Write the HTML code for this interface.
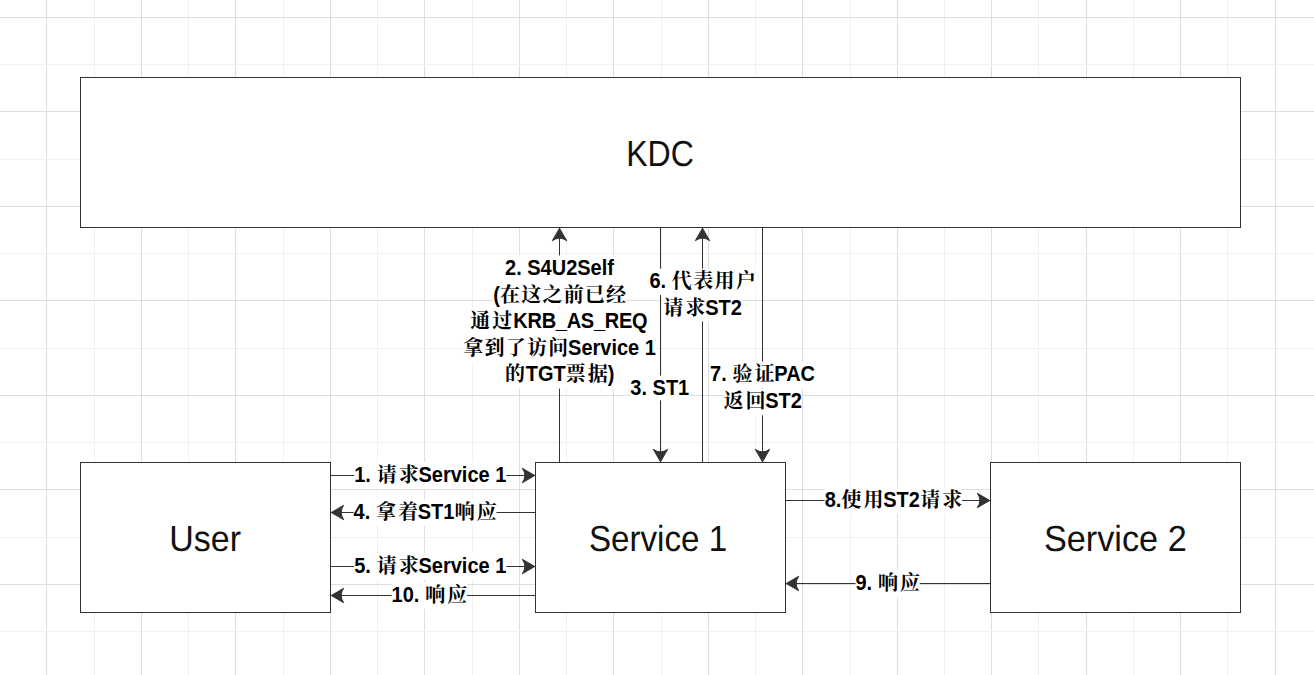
<!DOCTYPE html>
<html lang="zh-CN">
<head>
<meta charset="utf-8">
<title>Kerberos S4U2Self / S4U2Proxy flow</title>
<style>
html,body{margin:0;padding:0;background:#fff;}
body{width:1314px;height:675px;overflow:hidden;font-family:"Liberation Sans",sans-serif;}
svg{display:block;position:absolute;left:0;top:0;}
.grid{shape-rendering:crispEdges;}
.box rect{fill:#fff;stroke:#333;stroke-width:1;shape-rendering:crispEdges;}
.edge rect{fill:#333;shape-rendering:crispEdges;}
.arrow path{fill:#333;stroke:#333;stroke-width:1;stroke-linejoin:miter;}
.lbg rect{fill:#fff;}
.lbl text{font-family:"Liberation Sans",sans-serif;font-weight:bold;font-size:20px;fill:#000;font-kerning:normal;white-space:pre;}
.lbl text.cjk{font-family:"Liberation Serif","Noto Serif CJK SC",serif;font-weight:bold;font-size:20px;fill:#000;}
.ttl text{text-rendering:geometricPrecision;font-family:"Liberation Sans",sans-serif;font-weight:normal;font-size:36.3px;fill:#111;stroke:none;font-kerning:none;}
</style>
</head>
<body>
<svg width="1314" height="675" viewBox="0 0 1314 675">
<g class="grid">
<rect x="46" y="0" width="1" height="675" fill="#dedede"/>
<rect x="94" y="0" width="1" height="675" fill="#f0f0f0"/>
<rect x="141" y="0" width="1" height="675" fill="#dedede"/>
<rect x="188" y="0" width="1" height="675" fill="#f0f0f0"/>
<rect x="235" y="0" width="1" height="675" fill="#dedede"/>
<rect x="283" y="0" width="1" height="675" fill="#f0f0f0"/>
<rect x="330" y="0" width="1" height="675" fill="#dedede"/>
<rect x="377" y="0" width="1" height="675" fill="#f0f0f0"/>
<rect x="424" y="0" width="1" height="675" fill="#dedede"/>
<rect x="472" y="0" width="1" height="675" fill="#f0f0f0"/>
<rect x="519" y="0" width="1" height="675" fill="#dedede"/>
<rect x="566" y="0" width="1" height="675" fill="#f0f0f0"/>
<rect x="613" y="0" width="1" height="675" fill="#dedede"/>
<rect x="661" y="0" width="1" height="675" fill="#f0f0f0"/>
<rect x="708" y="0" width="1" height="675" fill="#dedede"/>
<rect x="755" y="0" width="1" height="675" fill="#f0f0f0"/>
<rect x="802" y="0" width="1" height="675" fill="#dedede"/>
<rect x="850" y="0" width="1" height="675" fill="#f0f0f0"/>
<rect x="897" y="0" width="1" height="675" fill="#dedede"/>
<rect x="944" y="0" width="1" height="675" fill="#f0f0f0"/>
<rect x="991" y="0" width="1" height="675" fill="#dedede"/>
<rect x="1038" y="0" width="1" height="675" fill="#f0f0f0"/>
<rect x="1086" y="0" width="1" height="675" fill="#dedede"/>
<rect x="1133" y="0" width="1" height="675" fill="#f0f0f0"/>
<rect x="1180" y="0" width="1" height="675" fill="#dedede"/>
<rect x="1227" y="0" width="1" height="675" fill="#f0f0f0"/>
<rect x="1275" y="0" width="1" height="675" fill="#dedede"/>
<rect x="0" y="17" width="1314" height="1" fill="#dedede"/>
<rect x="0" y="64" width="1314" height="1" fill="#f0f0f0"/>
<rect x="0" y="111" width="1314" height="1" fill="#dedede"/>
<rect x="0" y="159" width="1314" height="1" fill="#f0f0f0"/>
<rect x="0" y="206" width="1314" height="1" fill="#dedede"/>
<rect x="0" y="253" width="1314" height="1" fill="#f0f0f0"/>
<rect x="0" y="300" width="1314" height="1" fill="#dedede"/>
<rect x="0" y="348" width="1314" height="1" fill="#f0f0f0"/>
<rect x="0" y="395" width="1314" height="1" fill="#dedede"/>
<rect x="0" y="442" width="1314" height="1" fill="#f0f0f0"/>
<rect x="0" y="489" width="1314" height="1" fill="#dedede"/>
<rect x="0" y="537" width="1314" height="1" fill="#f0f0f0"/>
<rect x="0" y="584" width="1314" height="1" fill="#dedede"/>
<rect x="0" y="631" width="1314" height="1" fill="#f0f0f0"/>
</g>
<g class="box">
<rect x="80.5" y="77.5" width="1160" height="150"/>
<rect x="80.5" y="462.5" width="250" height="150"/>
<rect x="535.5" y="462.5" width="250" height="150"/>
<rect x="990.5" y="462.5" width="250" height="150"/>
</g>
<g class="edge">
<rect x="559" y="228" width="1" height="234"/>
<rect x="660" y="228" width="1" height="234"/>
<rect x="702" y="228" width="1" height="234"/>
<rect x="762" y="228" width="1" height="234"/>
<rect x="331" y="475" width="204" height="1"/>
<rect x="331" y="512" width="204" height="1"/>
<rect x="331" y="566" width="204" height="1"/>
<rect x="331" y="595" width="204" height="1"/>
<rect x="786" y="500" width="204" height="1"/>
<rect x="786" y="583" width="204" height="1"/>
</g>
<g class="arrow">
<path d="M559.5 228.2L552.3 240.7Q559.5 235.5 566.7 240.7Z"/>
<path d="M660.5 461.8L653.3 449.3Q660.5 454.5 667.7 449.3Z"/>
<path d="M702.5 228.2L695.3 240.7Q702.5 235.5 709.7 240.7Z"/>
<path d="M762.5 461.8L755.3 449.3Q762.5 454.5 769.7 449.3Z"/>
<path d="M534.8 475.5L522.3 468.3Q527.5 475.5 522.3 482.7Z"/>
<path d="M331.2 512.5L343.7 505.3Q338.5 512.5 343.7 519.7Z"/>
<path d="M534.8 566.5L522.3 559.3Q527.5 566.5 522.3 573.7Z"/>
<path d="M331.2 595.5L343.7 588.3Q338.5 595.5 343.7 602.7Z"/>
<path d="M989.8 500.5L977.3 493.3Q982.5 500.5 977.3 507.7Z"/>
<path d="M786.2 583.5L798.7 576.3Q793.5 583.5 798.7 590.7Z"/>
</g>
<g class="ttl">
<text x="626.17" y="166.00" textLength="67.65" lengthAdjust="spacingAndGlyphs">KDC</text>
<text x="169.18" y="551.00" textLength="71.79" lengthAdjust="spacingAndGlyphs">User</text>
<text x="589.00" y="551.00" textLength="138.12" lengthAdjust="spacingAndGlyphs">Service 1</text>
<text x="1043.94" y="551.00" textLength="142.78" lengthAdjust="spacingAndGlyphs">Service 2</text>
</g>
<g class="lbl" role="img" aria-label="2. S4U2Self (在这之前已经 通过KRB_AS_REQ 拿到了访问Service 1 的TGT票据)"><title>2. S4U2Self (在这之前已经 通过KRB_AS_REQ 拿到了访问Service 1 的TGT票据)</title>
<g class="lbg"><rect x="505.03" y="255.40" width="108.94" height="26.64"/><rect x="493.17" y="282.04" width="132.66" height="26.64"/><rect x="470.16" y="308.68" width="178.69" height="26.64"/><rect x="463.08" y="335.32" width="192.84" height="26.64"/><rect x="504.68" y="361.96" width="109.64" height="26.64"/></g>
<text transform="translate(505.03 275.00) scale(1 1.08)" textLength="108.94">2. S4U2Self</text>
<text transform="translate(493.17 301.50) scale(1 1.08)" textLength="6.66">(</text>
<text class="cjk" x="500.03" y="301.50" textLength="126">在这之前已经</text>
<text class="cjk" x="470.36" y="328.00" textLength="42">通过</text>
<text transform="translate(513.36 328.00) scale(1 1.08)" textLength="134.20">KRB_AS_REQ</text>
<text class="cjk" x="463.28" y="354.50" textLength="105">拿到了访问</text>
<text transform="translate(568.08 354.50) scale(1 1.08)" textLength="87.84">Service 1</text>
<text class="cjk" x="504.88" y="381.00" textLength="21">的</text>
<text transform="translate(525.68 381.00) scale(1 1.08)" textLength="39.98">TGT</text>
<text class="cjk" x="565.86" y="381.00" textLength="42">票据</text>
<text transform="translate(607.66 381.00) scale(1 1.08)" textLength="6.66">)</text>
</g>
<g class="lbl" role="img" aria-label="6. 代表用户 请求ST2"><title>6. 代表用户 请求ST2</title>
<g class="lbg"><rect x="649.38" y="268.60" width="106.23" height="26.45"/><rect x="663.16" y="295.05" width="78.67" height="26.45"/></g>
<text transform="translate(649.38 288.00) scale(1 1.08)" textLength="16.67">6.</text>
<text class="cjk" x="671.82" y="288.00" textLength="84">代表用户</text>
<text class="cjk" x="663.36" y="315.00" textLength="42">请求</text>
<text transform="translate(705.16 315.00) scale(1 1.08)" textLength="36.67">ST2</text>
</g>
<g class="lbl" role="img" aria-label="3. ST1"><title>3. ST1</title>
<g class="lbg"><rect x="630.35" y="375.60" width="58.91" height="24.70"/></g>
<text transform="translate(630.35 395.00) scale(1 1.08)" textLength="58.91">3. ST1</text>
</g>
<g class="lbl" role="img" aria-label="7. 验证PAC 返回ST2"><title>7. 验证PAC 返回ST2</title>
<g class="lbg"><rect x="710.12" y="361.50" width="104.97" height="26.85"/><rect x="723.26" y="388.35" width="78.67" height="26.85"/></g>
<text transform="translate(710.12 381.00) scale(1 1.08)" textLength="16.67">7.</text>
<text class="cjk" x="732.55" y="381.00" textLength="42">验证</text>
<text transform="translate(774.35 381.00) scale(1 1.08)" textLength="40.73">PAC</text>
<text class="cjk" x="723.46" y="408.00" textLength="42">返回</text>
<text transform="translate(765.26 408.00) scale(1 1.08)" textLength="36.67">ST2</text>
</g>
<g class="lbl" role="img" aria-label="1. 请求Service 1"><title>1. 请求Service 1</title>
<g class="lbg"><rect x="354.26" y="462.20" width="152.08" height="26.60"/></g>
<text transform="translate(354.26 482.00) scale(1 1.08)" textLength="16.67">1.</text>
<text class="cjk" x="376.70" y="482.00" textLength="42">请求</text>
<text transform="translate(418.50 482.00) scale(1 1.08)" textLength="87.84">Service 1</text>
</g>
<g class="lbl" role="img" aria-label="4. 拿着ST1响应"><title>4. 拿着ST1响应</title>
<g class="lbg"><rect x="353.55" y="499.20" width="142.91" height="26.60"/></g>
<text transform="translate(353.55 519.00) scale(1 1.08)" textLength="16.67">4.</text>
<text class="cjk" x="375.98" y="519.00" textLength="42">拿着</text>
<text transform="translate(417.78 519.00) scale(1 1.08)" textLength="36.67">ST1</text>
<text class="cjk" x="454.65" y="519.00" textLength="42">响应</text>
</g>
<g class="lbl" role="img" aria-label="5. 请求Service 1"><title>5. 请求Service 1</title>
<g class="lbg"><rect x="354.26" y="553.20" width="152.08" height="26.60"/></g>
<text transform="translate(354.26 573.00) scale(1 1.08)" textLength="16.67">5.</text>
<text class="cjk" x="376.70" y="573.00" textLength="42">请求</text>
<text transform="translate(418.50 573.00) scale(1 1.08)" textLength="87.84">Service 1</text>
</g>
<g class="lbl" role="img" aria-label="10. 响应"><title>10. 响应</title>
<g class="lbg"><rect x="391.57" y="582.20" width="75.36" height="26.60"/></g>
<text transform="translate(391.57 602.00) scale(1 1.08)" textLength="27.80">10.</text>
<text class="cjk" x="425.13" y="602.00" textLength="42">响应</text>
</g>
<g class="lbl" role="img" aria-label="8.使用ST2请求"><title>8.使用ST2请求</title>
<g class="lbg"><rect x="824.63" y="487.20" width="137.34" height="26.60"/></g>
<text transform="translate(824.63 507.00) scale(1 1.08)" textLength="16.67">8.</text>
<text class="cjk" x="841.50" y="507.00" textLength="42">使用</text>
<text transform="translate(883.30 507.00) scale(1 1.08)" textLength="36.67">ST2</text>
<text class="cjk" x="920.17" y="507.00" textLength="42">请求</text>
</g>
<g class="lbl" role="img" aria-label="9. 响应"><title>9. 响应</title>
<g class="lbg"><rect x="855.48" y="570.20" width="64.23" height="26.60"/></g>
<text transform="translate(855.48 590.00) scale(1 1.08)" textLength="16.67">9.</text>
<text class="cjk" x="877.92" y="590.00" textLength="42">响应</text>
</g>
</svg>
</body>
</html>
